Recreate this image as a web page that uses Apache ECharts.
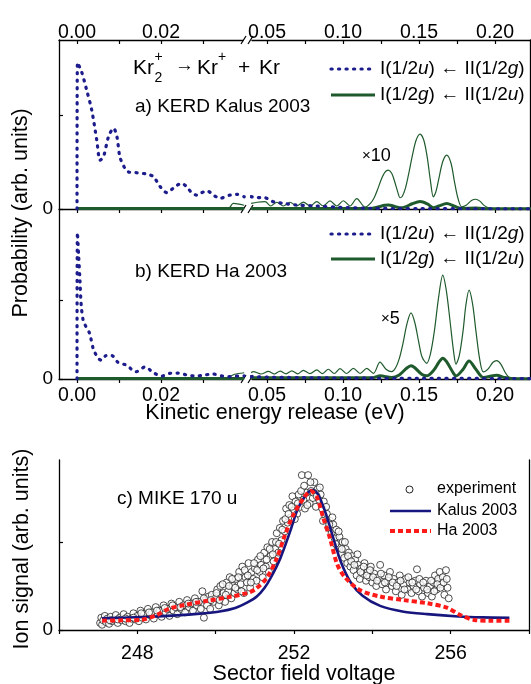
<!DOCTYPE html>
<html>
<head>
<meta charset="utf-8">
<title>Kr2+ KERD and MIKE</title>
<script src="https://cdn.jsdelivr.net/npm/echarts@6.0.0/dist/echarts.min.js"></script>
<style>
html, body { margin: 0; padding: 0; background: #fff; }
#chart { width: 531px; height: 684px; }
</style>
</head>
<body>
<div id="chart"></div>
<script>
// ---- panel a) KERD Kalus 2003 ----
var blueA_L = [[0,0],[0.0001,0.78],[0.0011,0.73],[0.0023,0.633],[0.0035,0.527],[0.0047,0.367],[0.0055,0.26],[0.0063,0.278],[0.0075,0.385],[0.0087,0.43],[0.0095,0.385],[0.0102,0.278],[0.0112,0.225],[0.0122,0.198],[0.0142,0.193],[0.0166,0.186],[0.0182,0.172],[0.0198,0.119],[0.0214,0.087],[0.0229,0.11],[0.0249,0.137],[0.0261,0.119],[0.0273,0.087],[0.0285,0.074],[0.0297,0.087],[0.0309,0.097],[0.0325,0.074],[0.034,0.057],[0.0364,0.074],[0.038,0.078],[0.0398,0.065]];
var blueA_R = [[0.0395,0.066],[0.0432,0.06],[0.0476,0.062],[0.0541,0.039],[0.0607,0.03],[0.0695,0.021],[0.0827,0.016],[0.098,0.009],[0.118,0.004],[0.15,0.002],[0.224,0.001]];
var thinA_L = [[0,0.002],[0.036,0.002],[0.0372,0.03],[0.0398,0.02]];
var thinA_R = [[0.0395,0.03],[0.0435,0.036],[0.0487,0.039],[0.0524,0.016],[0.0564,0.036],[0.0607,0.016],[0.0651,0.036],[0.0695,0.016],[0.0739,0.037],[0.0783,0.016],[0.0827,0.039],[0.087,0.016],[0.0914,0.043],[0.0959,0.016],[0.1002,0.044],[0.1046,0.016],[0.109,0.055],[0.1145,0.01],
	[0.118,0.03],[0.1205,0.06],[0.123,0.11],[0.125,0.155],[0.1275,0.195],[0.1298,0.207],[0.132,0.19],[0.134,0.145],[0.136,0.09],[0.1375,0.06],
	[0.139,0.068],[0.141,0.11],[0.143,0.18],[0.1455,0.28],[0.148,0.365],[0.1507,0.399],[0.1532,0.365],[0.1555,0.27],[0.1575,0.15],[0.1594,0.065],
	[0.161,0.09],[0.163,0.16],[0.1655,0.25],[0.1682,0.287],[0.171,0.245],[0.1732,0.15],[0.1755,0.06],[0.178,0.012],
	[0.181,0.02],[0.1845,0.045],[0.1873,0.052],[0.19,0.042],[0.193,0.018],[0.1967,0.004],[0.205,0.002],[0.224,0.002]];
var thickA_L = [[0,0.002],[0.0398,0.002]];
var thickA_R = [[0.0395,0.003],[0.118,0.003],[0.123,0.011],[0.1275,0.02],[0.1298,0.021],[0.132,0.019],[0.136,0.009],[0.1375,0.006],[0.141,0.011],[0.1455,0.028],[0.1507,0.04],[0.1555,0.027],[0.1594,0.007],[0.163,0.016],[0.1682,0.029],[0.1732,0.015],[0.178,0.002],[0.1873,0.005],[0.1967,0.001],[0.224,0.001]];

// ---- panel b) KERD Ha 2003 ----
var blueB_L = [[0,0],[0.0001,0.934],[0.0004,0.78],[0.0007,0.63],[0.001,0.47],[0.0015,0.37],[0.0022,0.33],[0.003,0.29],[0.0039,0.19],[0.0051,0.13],[0.0058,0.12],[0.0068,0.148],[0.0078,0.153],[0.0086,0.145],[0.0098,0.105],[0.0118,0.088],[0.014,0.046],[0.0162,0.077],[0.0182,0.04],[0.0202,0.019],[0.0221,0.036],[0.0241,0.038],[0.0261,0.026],[0.0281,0.019],[0.0301,0.024],[0.0323,0.032],[0.0345,0.019],[0.0364,0.015],[0.0384,0.019],[0.0398,0.02]];
var blueB_R = [[0.0395,0.015],[0.05,0.012],[0.07,0.009],[0.1,0.006],[0.15,0.004],[0.224,0.003]];
var thinB_L = [[0,0.003],[0.035,0.003],[0.0375,0.03],[0.0398,0.04]];
var thinB_R = [[0.0395,0.04],[0.041,0.047],[0.046,0.032],[0.0509,0.048],[0.0548,0.032],[0.0586,0.05],[0.0625,0.033],[0.0663,0.052],[0.0701,0.033],[0.0739,0.055],[0.0783,0.034],[0.0827,0.058],[0.0865,0.034],[0.0903,0.062],[0.0942,0.035],[0.098,0.066],[0.1024,0.035],[0.1068,0.068],[0.1112,0.035],[0.1156,0.068],[0.12,0.036],[0.1243,0.107],[0.1285,0.06],[0.132,0.047],
	[0.1345,0.07],[0.137,0.13],[0.1395,0.23],[0.142,0.35],[0.1447,0.421],[0.1472,0.36],[0.1497,0.24],[0.152,0.14],[0.1551,0.1],
	[0.1575,0.16],[0.16,0.3],[0.163,0.53],[0.1656,0.662],[0.168,0.56],[0.1705,0.36],[0.1728,0.17],[0.1743,0.095],
	[0.1765,0.15],[0.179,0.31],[0.1808,0.47],[0.1829,0.566],[0.1852,0.48],[0.1875,0.3],[0.19,0.12],[0.1923,0.045],
	[0.1955,0.065],[0.1985,0.105],[0.2011,0.117],[0.2038,0.095],[0.2065,0.045],[0.209,0.012],[0.212,0.004],[0.224,0.003]];
var thickB_L = [[0,0.003],[0.0398,0.003]];
var thickB_R = [[0.0395,0.008],[0.12,0.01],[0.1243,0.02],[0.132,0.009],[0.137,0.026],[0.142,0.07],[0.1447,0.084],[0.1472,0.072],[0.152,0.028],[0.1551,0.02],[0.16,0.06],[0.163,0.106],[0.1656,0.133],[0.168,0.112],[0.1728,0.034],[0.1743,0.019],[0.179,0.062],[0.1829,0.114],[0.1875,0.06],[0.1923,0.009],[0.1985,0.021],[0.2011,0.024],[0.2065,0.009],[0.212,0.002],[0.224,0.002]];

// ---- panel c) MIKE 170 u ----
var kalusC = [[247.1,0.066],[247.6,0.07],[248.3,0.075],[249.0,0.083],[249.6,0.093],[250.1,0.105],[250.5,0.125],[250.8,0.155],[251.05,0.19],[251.25,0.24],[251.4,0.294],[251.65,0.407],[251.9,0.559],[252.1,0.69],[252.3,0.765],[252.45,0.795],[252.6,0.775],[252.8,0.67],[253.0,0.525],[253.2,0.385],[253.45,0.27],[253.75,0.195],[254.2,0.137],[254.8,0.104],[255.4,0.09],[256.2,0.077],[256.8,0.072],[257.5,0.07]];
var haC = [[247.1,0.053],[247.6,0.055],[248.1,0.058],[248.5,0.085],[248.8,0.12],[249.2,0.142],[249.8,0.166],[250.4,0.19],[250.8,0.21],[251.0,0.23],[251.3,0.295],[251.56,0.407],[251.77,0.54],[251.98,0.653],[252.24,0.748],[252.43,0.79],[252.58,0.757],[252.75,0.635],[252.92,0.52],[253.1,0.375],[253.3,0.3],[253.68,0.227],[254.2,0.19],[254.8,0.17],[255.4,0.152],[255.9,0.127],[256.25,0.085],[256.6,0.057],[257.0,0.053],[257.5,0.053]];
var expC = [
	[247.05,0.04],[247.08,0.07],[247.1,0.03],[247.13,0.055],[247.17,0.08],[247.2,0.045],[247.24,0.065],[247.28,0.035],[247.32,0.075],[247.36,0.05],[247.4,0.06],[247.45,0.085],[247.5,0.04],[247.55,0.07],[247.6,0.055],[247.65,0.09],[247.7,0.05],[247.75,0.075],[247.8,0.04],[247.85,0.065],[247.9,0.095],[247.95,0.06],
	[248.0,0.08],[248.04,0.05],[248.08,0.11],[248.12,0.07],[248.17,0.09],[248.22,0.06],[248.27,0.12],[248.32,0.085],[248.37,0.1],[248.42,0.065],[248.47,0.13],[248.52,0.09],[248.57,0.11],[248.62,0.075],[248.67,0.14],[248.72,0.1],[248.77,0.12],[248.82,0.08],[248.87,0.15],[248.92,0.11],[248.97,0.13],
	[249.02,0.09],[249.07,0.16],[249.12,0.12],[249.17,0.14],[249.22,0.1],[249.27,0.17],[249.32,0.13],[249.37,0.15],[249.42,0.11],[249.47,0.18],[249.52,0.14],[249.57,0.16],[249.62,0.12],[249.66,0.22],[249.7,0.07],[249.74,0.17],[249.78,0.14],[249.82,0.19],[249.86,0.12],[249.9,0.2],[249.95,0.16],
	[250.0,0.18],[250.04,0.23],[250.08,0.14],[250.12,0.25],[250.16,0.19],[250.2,0.21],[250.24,0.16],[250.28,0.27],[250.32,0.22],[250.36,0.3],[250.4,0.18],[250.44,0.25],[250.48,0.21],
	[250.52,0.29],[250.56,0.23],[250.6,0.33],[250.64,0.26],[250.68,0.36],[250.72,0.21],[250.76,0.3],[250.8,0.27],[250.84,0.38],[250.88,0.24],[250.92,0.33],[250.96,0.29],[251.0,0.35],
	[251.04,0.28],[251.08,0.4],[251.12,0.33],[251.16,0.37],[251.2,0.3],[251.24,0.44],[251.28,0.36],[251.32,0.47],[251.36,0.33],[251.4,0.42],[251.44,0.5],[251.48,0.39],
	[251.52,0.46],[251.56,0.55],[251.6,0.44],[251.64,0.58],[251.68,0.51],[251.72,0.62],[251.76,0.56],[251.8,0.69],[251.84,0.61],[251.88,0.71],[251.92,0.64],[251.96,0.76],[252.0,0.68],
	[252.04,0.73],[252.08,0.66],[252.12,0.77],[252.16,0.7],[252.2,0.88],[252.24,0.74],[252.28,0.69],[252.32,0.78],[252.36,0.88],[252.4,0.72],[252.44,0.79],[252.48,0.75],
	[252.52,0.84],[252.56,0.7],[252.6,0.8],[252.64,0.74],[252.68,0.77],[252.72,0.69],[252.76,0.73],[252.8,0.64],[252.84,0.66],[252.88,0.58],[252.92,0.62],[252.96,0.55],[253.0,0.6],
	[253.04,0.52],[253.08,0.57],[253.12,0.47],[253.16,0.53],[253.2,0.43],[253.24,0.5],[253.28,0.41],[253.32,0.46],[253.36,0.38],[253.4,0.44],[253.44,0.36],[253.48,0.42],
	[253.52,0.34],[253.56,0.4],[253.6,0.31],[253.64,0.37],[253.68,0.29],[253.72,0.35],[253.76,0.32],[253.8,0.38],[253.84,0.28],[253.88,0.33],[253.92,0.3],[253.96,0.36],
	[254.0,0.27],[254.05,0.32],[254.1,0.25],[254.15,0.3],[254.2,0.37],[254.25,0.26],[254.3,0.31],[254.35,0.23],[254.4,0.28],[254.45,0.33],[254.5,0.25],[254.55,0.29],[254.6,0.22],[254.65,0.27],[254.7,0.31],[254.75,0.2],[254.8,0.26],[254.85,0.29],[254.9,0.23],[254.95,0.27],
	[255.0,0.21],[255.05,0.25],[255.1,0.28],[255.14,0.345],[255.18,0.22],[255.22,0.26],[255.27,0.19],[255.32,0.24],[255.37,0.28],[255.42,0.21],[255.47,0.25],[255.52,0.19],[255.56,0.27],[255.6,0.31],[255.64,0.23],[255.68,0.29],[255.72,0.33],[255.76,0.26],[255.8,0.3],[255.84,0.2],[255.88,0.34],[255.92,0.24],[255.95,0.18],
	[247.3,0.055],[247.5,0.06],[247.7,0.065],[247.9,0.07],[248.1,0.095],[248.3,0.1],[248.5,0.11],[248.7,0.125],[248.9,0.14],[249.1,0.13],[249.3,0.15],[249.5,0.16],[249.7,0.18],[249.88,0.17],
	[250.02,0.21],[250.1,0.17],[250.18,0.26],[250.26,0.2],[250.34,0.25],[250.42,0.29],[250.5,0.24],[250.58,0.3],[250.66,0.22],[250.74,0.34],[250.82,0.31],[250.9,0.27],[250.98,0.38],
	[251.06,0.34],[251.14,0.42],[251.22,0.35],[251.3,0.4],[251.38,0.46],[251.46,0.43],[251.54,0.5],[251.62,0.49],[251.7,0.57],[251.78,0.63],[251.86,0.66],[251.94,0.7],
	[252.02,0.63],[252.1,0.72],[252.18,0.79],[252.26,0.82],[252.34,0.71],[252.42,0.84],[252.5,0.78],[252.58,0.76],[252.66,0.81],[252.74,0.62],[252.82,0.7],[252.9,0.6],[252.98,0.64],
	[253.06,0.49],[253.14,0.56],[253.22,0.46],[253.3,0.5],[253.38,0.42],[253.46,0.39],[253.54,0.37],[253.62,0.43],[253.7,0.33],[253.78,0.36],[253.86,0.31],[253.94,0.34],
	[254.02,0.3],[254.12,0.28],[254.22,0.32],[254.32,0.27],[254.42,0.3],[254.52,0.27],[254.62,0.25],[254.72,0.28],[254.82,0.23],[254.92,0.3],
	[255.02,0.27],[255.12,0.23],[255.2,0.29],[255.3,0.27],[255.4,0.23],[255.5,0.28],[255.58,0.22],[255.66,0.26],[255.74,0.24],[255.82,0.27],[255.9,0.29]
];

// ticks
var kerLeftTicks = [0, 0.01, 0.02, 0.03];
var kerLeftLabels = [0, 0.02];
var kerRightTicks = [0.05, 0.075, 0.1, 0.125, 0.15, 0.175, 0.2];
var kerRightLabels = [0.05, 0.1, 0.15, 0.2];
var volTicks = [246, 248, 250, 252, 254, 256, 258];
var volLabels = [248, 252, 256];

var FONT = '"Liberation Sans", Arial, sans-serif';
var BLUE = '#1c1c8c';
var GREEN = '#1f5a2c';
var NAVY = '#16167e';
var RED = '#ff1a1a';
var dotted = { color: BLUE, width: 3.2, type: [1.2, 6.3], cap: 'round' };

function fmt2(v) { return (+v).toFixed(2); }

function xAx(grid, pos, min, max, ticks, labels, showLabel, fmt, margin) {
	return {
		type: 'value', gridIndex: grid, position: pos, min: min, max: max,
		axisLine: { show: true, onZero: false, lineStyle: { color: '#000', width: 1.3 } },
		axisTick: { show: true, inside: pos === 'top', length: 4, customValues: ticks, lineStyle: { color: '#000', width: 1.2 } },
		axisLabel: { show: showLabel, customValues: labels, margin: margin, fontSize: 19.5, fontFamily: FONT, color: '#000', formatter: fmt },
		splitLine: { show: false }
	};
}
function yAx(grid, pos, max, ticks) {
	var right = pos === 'right';
	return {
		type: 'value', gridIndex: grid, position: pos, min: 0, max: max,
		axisLine: { show: true, onZero: false, lineStyle: { color: '#000', width: 1.3 } },
		axisTick: { show: !right, inside: true, length: 4, customValues: ticks, lineStyle: { color: '#000', width: 1.2 } },
		axisLabel: { show: !right, customValues: [0], margin: 6, fontSize: 19, fontFamily: FONT, color: '#000' },
		splitLine: { show: false }
	};
}
function line(name, data, xi, yi, style, smooth) {
	return {
		name: name, type: 'line', data: data, xAxisIndex: xi, yAxisIndex: yi,
		showSymbol: false, smooth: smooth, lineStyle: style, silent: true
	};
}
function txt(x, y, text, size, extra) {
	var o = {
		type: 'text', x: x, y: y, silent: true,
		style: { text: text, fontSize: size, fontFamily: FONT, fill: '#000', align: 'left', verticalAlign: 'middle' }
	};
	if (extra) {
		for (var k in extra) o.style[k] = extra[k];
	}
	return o;
}
function seg(x1, y1, x2, y2, style) {
	return { type: 'line', silent: true, shape: { x1: x1, y1: y1, x2: x2, y2: y2 }, style: style };
}
function breakMarks(y) {
	var s = { stroke: '#000', lineWidth: 1.2 };
	return [seg(241, y + 4, 246, y - 4, s), seg(248, y + 4, 253, y - 4, s)];
}
function legendText(x, y, a, b) {
	return txt(x, y, '{n|I(1/2}{i|' + a + '}{n|) \u2190 II(1/2}{i|' + b + '}{n|)}', 19, {
		rich: {
			n: { fontSize: 19, fontFamily: FONT, fill: '#000' },
			i: { fontSize: 19, fontFamily: FONT, fontStyle: 'italic', fill: '#000' }
		}
	});
}

var L_MIN = -0.00429, L_MAX = 0.03952, R_MIN = 0.0401, R_MAX = 0.223;

var option = {
	animation: false,
	backgroundColor: '#fff',
	grid: [
		{ left: 59, top: 40, width: 184, height: 169 },
		{ left: 252, top: 40, width: 278, height: 169 },
		{ left: 59, top: 209, width: 184, height: 170 },
		{ left: 252, top: 209, width: 278, height: 170 },
		{ left: 59, top: 460, width: 470, height: 170 }
	],
	xAxis: [
		xAx(0, 'top', L_MIN, L_MAX, kerLeftTicks, kerLeftLabels, true, fmt2, -3),
		xAx(0, 'bottom', L_MIN, L_MAX, kerLeftTicks, kerLeftLabels, false, fmt2, 6),
		xAx(1, 'top', R_MIN, R_MAX, kerRightTicks, kerRightLabels, true, fmt2, -3),
		xAx(1, 'bottom', R_MIN, R_MAX, kerRightTicks, kerRightLabels, false, fmt2, 6),
		xAx(2, 'bottom', L_MIN, L_MAX, kerLeftTicks, kerLeftLabels, true, fmt2, 7),
		xAx(3, 'bottom', R_MIN, R_MAX, kerRightTicks, kerRightLabels, true, fmt2, 7),
		xAx(4, 'bottom', 246, 258, volTicks, volLabels, true, function (v) { return String(v); }, 14)
	],
	yAxis: [
		yAx(0, 'left', 0.9, [0, 0.5]),
		yAx(1, 'right', 0.9, [0, 0.5]),
		yAx(2, 'left', 1.0833, [0, 0.5]),
		yAx(3, 'right', 1.0833, [0, 0.5]),
		yAx(4, 'left', 0.966, [0, 0.5]),
		yAx(4, 'right', 0.966, [0, 0.5])
	],
	series: [
		line('thickA_L', thickA_L, 0, 0, { color: GREEN, width: 3 }, false),
		line('thinA_L', thinA_L, 0, 0, { color: GREEN, width: 1.2 }, 0.3),
		line('blueA_L', blueA_L, 0, 0, dotted, 0.3),
		line('thinA_R', thinA_R, 2, 1, { color: GREEN, width: 1.2 }, 0.3),
		line('thickA_R', thickA_R, 2, 1, { color: GREEN, width: 3 }, 0.3),
		line('blueA_R', blueA_R, 2, 1, dotted, 0.3),
		line('thickB_L', thickB_L, 4, 2, { color: GREEN, width: 3 }, false),
		line('thinB_L', thinB_L, 4, 2, { color: GREEN, width: 1.2 }, 0.3),
		line('blueB_L', blueB_L, 4, 2, dotted, 0.3),
		line('thinB_R', thinB_R, 5, 3, { color: GREEN, width: 1.2 }, 0.3),
		line('thickB_R', thickB_R, 5, 3, { color: GREEN, width: 3 }, 0.3),
		line('blueB_R', blueB_R, 5, 3, dotted, 0.3),
		{
			name: 'experiment', type: 'scatter', data: expC, xAxisIndex: 6, yAxisIndex: 4,
			symbol: 'circle', symbolSize: 7, silent: true,
			itemStyle: { color: '#fff', borderColor: '#222', borderWidth: 1 }
		},
		line('Kalus 2003', kalusC, 6, 4, { color: NAVY, width: 2.6 }, 0.3),
		line('Ha 2003', haC, 6, 4, { color: RED, width: 4, type: [5, 3] }, 0.3)
	],
	graphic: [].concat(
		breakMarks(40), breakMarks(209), breakMarks(379),
		[
			// axis titles
			txt(275, 413, 'Kinetic energy release (eV)', 21.5, { align: 'center' }),
			txt(304, 674, 'Sector field voltage', 21.5, { align: 'center' }),
			{ type: 'text', x: 21, y: 213, rotation: Math.PI / 2, silent: true,
				style: { text: 'Probability (arb. units)', fontSize: 21.5, fontFamily: FONT, fill: '#000', align: 'center', verticalAlign: 'middle' } },
			{ type: 'text', x: 22, y: 549, rotation: Math.PI / 2, silent: true,
				style: { text: 'Ion signal (arb. units)', fontSize: 21.5, fontFamily: FONT, fill: '#000', align: 'center', verticalAlign: 'middle' } },

			// reaction label
			txt(133, 68, 'Kr', 21),
			txt(154.5, 78, '2', 14),
			txt(154.5, 57, '+', 14),
			txt(175, 66, '\u2192', 19),
			txt(197, 68, 'Kr', 21),
			txt(218, 57, '+', 14),
			txt(238, 68, '+', 21),
			txt(259, 68, 'Kr', 21),

			// panel labels
			txt(135, 107, 'a) KERD Kalus 2003', 19),
			txt(135, 272, 'b) KERD Ha 2003', 19),
			txt(117, 499, 'c) MIKE 170 u', 19),
			txt(362, 156, '{s|\u00d7}{n|10}', 18, { rich: { s: { fontSize: 15, fontFamily: FONT }, n: { fontSize: 18, fontFamily: FONT } } }),
			txt(381, 319, '{s|\u00d7}{n|5}', 18, { rich: { s: { fontSize: 15, fontFamily: FONT }, n: { fontSize: 18, fontFamily: FONT } } }),

			// legend panel a
			seg(331, 69, 376, 69, { stroke: BLUE, lineWidth: 3.2, lineDash: [1.2, 6.3], lineCap: 'round' }),
			legendText(380, 69, 'u', 'g'),
			seg(331, 95, 375, 95, { stroke: GREEN, lineWidth: 3 }),
			legendText(380, 95, 'g', 'u'),

			// legend panel b
			seg(331, 234, 376, 234, { stroke: BLUE, lineWidth: 3.2, lineDash: [1.2, 6.3], lineCap: 'round' }),
			legendText(380, 234, 'u', 'g'),
			seg(331, 259, 375, 259, { stroke: GREEN, lineWidth: 3 }),
			legendText(380, 259, 'g', 'u'),

			// legend panel c
			{ type: 'circle', silent: true, shape: { cx: 409.5, cy: 489.5, r: 3.5 }, style: { fill: '#fff', stroke: '#222', lineWidth: 1 } },
			txt(437, 489, 'experiment', 16),
			seg(390, 511, 431, 511, { stroke: NAVY, lineWidth: 2.6 }),
			txt(437, 511, 'Kalus 2003', 16),
			seg(390, 531, 431, 531, { stroke: RED, lineWidth: 4, lineDash: [5, 3] }),
			txt(437, 531, 'Ha 2003', 16)
		]
	)
};

var myChart = echarts.init(document.getElementById('chart'), null, { renderer: 'canvas' });
myChart.setOption(option);
</script>
</body>
</html>
